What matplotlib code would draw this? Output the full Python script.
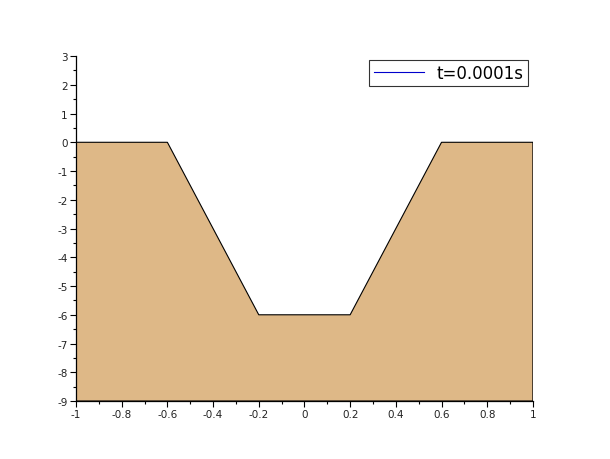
import matplotlib
matplotlib.use("Agg")
import matplotlib.pyplot as plt
from matplotlib.lines import Line2D
from matplotlib.ticker import MultipleLocator, FuncFormatter

# profile at t=0.0001s
X = [-1.0, -0.6, -0.2, 0.2, 0.6, 1.0]
Y = [0.0, 0.0, -6.0, -6.0, 0.0, 0.0]
Y_BOTTOM = -9
LABEL = "t=0.0001s"

C_FILL = "#DEB887"

plt.rcParams["axes.unicode_minus"] = False

fig = plt.figure(figsize=(6.1, 4.6), dpi=100)
fig.patch.set_facecolor("white")
ax = fig.add_axes([0.1246, 0.126, 0.749, 0.750])

ax.fill(X + [X[-1], X[0]], Y + [Y_BOTTOM, Y_BOTTOM],
        facecolor=C_FILL, edgecolor="black", lw=0.8, zorder=2)

ax.set_xlim(-1, 1)
ax.set_ylim(-9, 3)
ax.xaxis.set_major_locator(MultipleLocator(0.2))
ax.xaxis.set_minor_locator(MultipleLocator(0.1))
ax.yaxis.set_major_locator(MultipleLocator(1))
ax.yaxis.set_minor_locator(MultipleLocator(0.5))
fmt = FuncFormatter(lambda v, p: f"{round(v, 6):g}" if abs(v) > 1e-9 else "0")
ax.xaxis.set_major_formatter(fmt)
ax.yaxis.set_major_formatter(fmt)

for s in ("top", "right"):
    ax.spines[s].set_visible(False)
for s in ("left", "bottom"):
    ax.spines[s].set_linewidth(0.9)

ax.tick_params(which="major", direction="out", length=4, width=0.8,
               labelsize=7.5, colors="black", labelcolor="#222222", pad=2)
ax.tick_params(which="minor", direction="out", length=2, width=0.8)

handle = Line2D([], [], color="#0000CC", lw=0.8)
leg = fig.legend([handle], [LABEL], loc="upper right", fontsize=12,
                 frameon=True, fancybox=False, handlelength=3.0,
                 borderpad=0.25, handletextpad=0.8, borderaxespad=0,
                 bbox_to_anchor=(528 / 610, 1 - 61 / 460))
leg.get_frame().set_edgecolor("black")
leg.get_frame().set_linewidth(0.8)

fig.savefig("out.png", dpi=100, facecolor="white")
